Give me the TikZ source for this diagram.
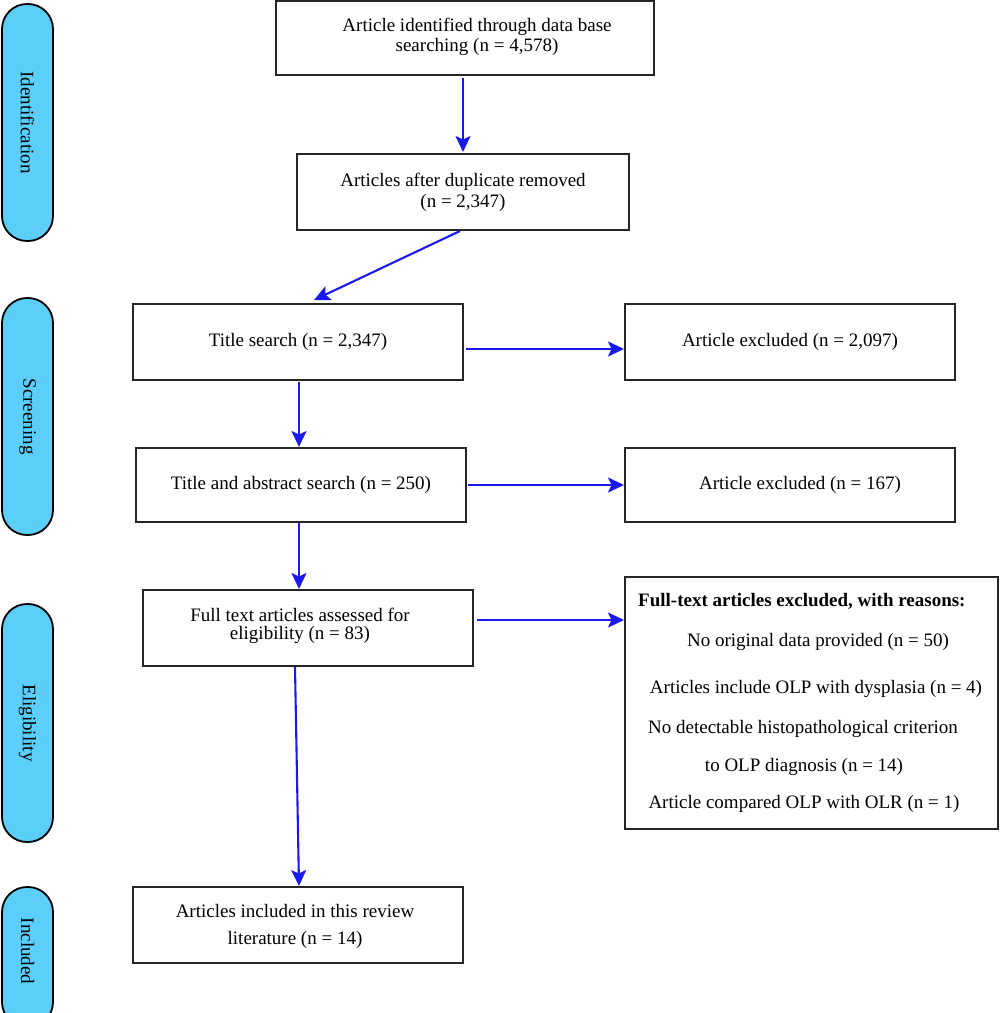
\documentclass[tikz,border=0pt]{standalone}
\usepackage{fontspec}
\setmainfont{Liberation Serif}
\usetikzlibrary{arrows.meta}
\definecolor{pill}{HTML}{5BCFFA}
\definecolor{arrowblue}{HTML}{1A1AEE}
\begin{document}
\begin{tikzpicture}[x=1pt,y=-1pt,
  box/.style={draw=black!85,line width=1.8pt,rectangle,inner sep=0pt,align=center,font=\fontsize{19}{23}\selectfont},
  phase/.style={draw=black,line width=1.8pt,fill=pill,rounded corners=25pt,inner sep=0pt,font=\fontsize{19}{23}\selectfont},
  lbl/.style={inner sep=0pt,font=\fontsize{19}{23}\selectfont},
  arr/.style={draw=arrowblue,line width=2.1pt,-{Stealth[length=16pt,width=15pt,inset=3.5pt]}}]
\useasboundingbox (0,0) rectangle (1000,1013);
% phase pills
\node[phase,minimum width=51pt,minimum height=237pt] (pid) at (27.5,122.5) {};
\node[lbl,rotate=-90] (pidt) at (pid) {Identification};
\node[phase,minimum width=51pt,minimum height=237pt] (psc) at (27.5,416.5) {};
\node[lbl,rotate=-90] (psct) at (psc) {Screening};
\node[phase,minimum width=51pt,minimum height=238pt] (pel) at (27.5,723) {};
\node[lbl,rotate=-90] (pelt) at (pel) {Eligibility};
\node[phase,minimum width=51pt,minimum height=140pt] (pin) at (27.5,957) {};
\node[lbl,rotate=-90] (pint) at (27.5,951) {Included};
% boxes
\node[box,minimum width=378pt,minimum height=74pt] (b1) at (465,38) {};
\node[lbl] (b1a) at (477,27) {Article identified through data base};
\node[lbl] (b1b) at (477,47) {searching (n = 4,578)};
\node[box,minimum width=332pt,minimum height=76pt] (b2) at (463,192) {};
\node[lbl] (b2a) at (463,182) {Articles after duplicate removed};
\node[lbl] (b2b) at (463,203) {(n = 2,347)};
\node[box,minimum width=330pt,minimum height=76pt] (b3) at (298,342) {Title search (n = 2,347)};
\node[box,minimum width=330pt,minimum height=74pt] (b4) at (301,485) {Title and abstract search (n = 250)};
\node[box,minimum width=330pt,minimum height=76pt] (e1) at (790,342) {Article excluded (n = 2,097)};
\node[box,minimum width=330pt,minimum height=74pt] (e2) at (790,485) {\hspace*{20pt}Article excluded (n = 167)};
\node[box,minimum width=330pt,minimum height=76pt] (b5) at (308,628) {};
\node[lbl] (b5a) at (300,615) {Full text articles assessed for};
\node[lbl] (b5b) at (300,635) {eligibility (n = 83)};
\node[box,minimum width=373pt,minimum height=252pt] (e3) at (811.5,703) {};
\node[lbl,anchor=west,font=\fontsize{19}{23}\selectfont\bfseries] (e3t) at (638,601) {Full-text articles excluded, with reasons:};
\node[lbl] (e3a) at (818,642) {No original data provided (n = 50)};
\node[lbl] (e3b) at (816,689) {Articles include OLP with dysplasia (n = 4)};
\node[lbl] (e3c) at (803,729) {No detectable histopathological criterion};
\node[lbl] (e3d) at (804,767) {to OLP diagnosis (n = 14)};
\node[lbl] (e3e) at (804,804) {Article compared OLP with OLR (n = 1)};
\node[box,minimum width=330pt,minimum height=76pt] (b6) at (298,925) {};
\node[lbl] (b6a) at (295,911) {Articles included in this review};
\node[lbl] (b6b) at (295,940) {literature (n = 14)};
% arrows
\coordinate (a1s) at (463,78); \coordinate (a1e) at (463,152);
\draw[arr] (a1s) -- (a1e);
\coordinate (a2s) at (460,231); \coordinate (a2e) at (314,300);
\draw[arr] (a2s) -- (a2e);
\coordinate (a3s) at (466,349); \coordinate (a3e) at (624,349);
\draw[arr] (a3s) -- (a3e);
\coordinate (a4s) at (299,382); \coordinate (a4e) at (299,447);
\draw[arr] (a4s) -- (a4e);
\coordinate (a5s) at (468,485); \coordinate (a5e) at (624,485);
\draw[arr] (a5s) -- (a5e);
\coordinate (a6s) at (299,523); \coordinate (a6e) at (299,589);
\draw[arr] (a6s) -- (a6e);
\coordinate (a7s) at (477,620); \coordinate (a7e) at (624,620);
\draw[arr] (a7s) -- (a7e);
\coordinate (a8s) at (295,667); \coordinate (a8e) at (299,886);
\draw[arr] (a8s) -- (a8e);
\end{tikzpicture}
\end{document}
